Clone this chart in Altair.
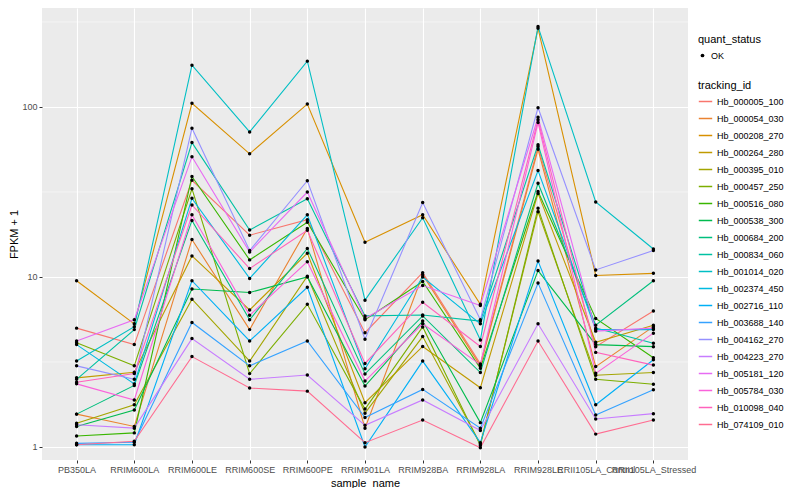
import altair as alt
import pandas as pd

samples = ["PB350LA", "RRIM600LA", "RRIM600LE", "RRIM600SE", "RRIM600PE",
           "RRIM901LA", "RRIM928BA", "RRIM928LA", "RRIM928LE",
           "RRII105LA_Control", "RRII105LA_Stressed"]

tracking_ids = ["Hb_000005_100", "Hb_000054_030", "Hb_000208_270", "Hb_000264_280",
                "Hb_000395_010", "Hb_000457_250", "Hb_000516_080", "Hb_000538_300",
                "Hb_000684_200", "Hb_000834_060", "Hb_001014_020", "Hb_002374_450",
                "Hb_002716_110", "Hb_003688_140", "Hb_004162_270", "Hb_004223_270",
                "Hb_005181_120", "Hb_005784_030", "Hb_010098_040", "Hb_074109_010"]

palette = ["#F8766D", "#EA8331", "#D89000", "#C09B00", "#A3A500", "#7CAE00",
           "#39B600", "#00BB4E", "#00BF7D", "#00C1A3", "#00BFC4", "#00BAE0",
           "#00B0F6", "#35A2FF", "#9590FF", "#C77CFF", "#E76BF3", "#FA62DB",
           "#FF62BC", "#FF6C91"]

# FPKM + 1 per sample, one list per tracking_id
hb_000005_100 = [5.0, 4.0, 37.0, 17.6, 21.7, 4.7, 10.6, 3.08, 58.5, 3.89, 6.3]
hb_000054_030 = [1.56, 1.32, 16.6, 4.9, 19.3, 1.29, 10.3, 3.0, 56.4, 2.97, 5.1]
hb_000208_270 = [9.5, 5.3, 105.0, 53.0, 104.0, 16.0, 23.2, 6.9, 290.0, 10.2, 10.5]
hb_000264_280 = [2.55, 2.75, 13.3, 6.4, 13.8, 1.82, 3.9, 2.23, 31.0, 4.13, 5.2]
hb_000395_010 = [1.38, 1.77, 7.4, 3.2, 10.1, 1.58, 4.46, 1.04, 24.2, 2.64, 2.74]
hb_000457_250 = [4.1, 3.0, 33.0, 2.7, 6.9, 1.67, 5.08, 1.02, 25.4, 2.5, 2.34]
hb_000516_080 = [1.16, 1.21, 39.0, 12.6, 21.0, 5.6, 9.4, 2.9, 31.8, 5.7, 3.35]
hb_000538_300 = [1.32, 1.65, 8.5, 8.1, 10.0, 2.28, 5.5, 1.39, 10.9, 4.0, 3.89]
hb_000684_200 = [1.56, 2.3, 21.5, 5.6, 14.7, 2.69, 5.9, 2.74, 35.6, 5.2, 9.5]
hb_000834_060 = [2.5, 4.9, 61.7, 18.9, 28.8, 5.9, 5.97, 5.5, 60.0, 5.0, 4.07]
hb_001014_020 = [3.2, 5.1, 176.0, 71.3, 186.0, 7.3, 22.3, 4.26, 297.0, 27.6, 14.6]
hb_002374_450 = [4.0, 2.35, 29.0, 9.8, 23.2, 2.88, 10.0, 5.3, 42.3, 4.9, 4.9]
hb_002716_110 = [1.03, 1.03, 9.5, 4.2, 8.7, 1.0, 3.2, 1.06, 12.4, 1.77, 3.26]
hb_003688_140 = [1.05, 1.065, 5.4, 3.0, 4.2, 1.49, 2.18, 1.29, 9.2, 1.54, 2.17]
hb_004162_270 = [3.0, 2.5, 75.0, 14.3, 36.8, 4.3, 27.4, 5.6, 99.0, 11.0, 14.3]
hb_004223_270 = [1.35, 1.29, 4.34, 2.5, 2.65, 1.34, 1.89, 1.25, 5.3, 1.46, 1.57]
hb_005181_120 = [4.2, 5.6, 51.0, 14.0, 31.6, 5.7, 8.9, 6.8, 87.0, 4.8, 5.0]
hb_005784_030 = [2.35, 1.89, 23.2, 5.95, 12.3, 2.44, 5.3, 3.05, 81.0, 2.71, 4.67]
hb_010098_040 = [2.4, 2.7, 26.5, 11.2, 18.8, 3.1, 7.1, 3.9, 84.0, 3.6, 3.03]
hb_074109_010 = [1.03, 1.08, 3.4, 2.22, 2.13, 1.06, 1.44, 0.99, 4.2, 1.19, 1.44]

series_values = [hb_000005_100, hb_000054_030, hb_000208_270, hb_000264_280,
                 hb_000395_010, hb_000457_250, hb_000516_080, hb_000538_300,
                 hb_000684_200, hb_000834_060, hb_001014_020, hb_002374_450,
                 hb_002716_110, hb_003688_140, hb_004162_270, hb_004223_270,
                 hb_005181_120, hb_005784_030, hb_010098_040, hb_074109_010]

minor_grid = [10 ** 0.5, 10 ** 1.5, 10 ** 2.5]

rows = []
for tid, vals in zip(tracking_ids, series_values):
    for s, v in zip(samples, vals):
        rows.append({"tracking_id": tid, "sample_name": s, "fpkm": v, "quant_status": "OK"})
df = pd.DataFrame(rows)
grid_df = pd.DataFrame({"fpkm": minor_grid})

FONT = "Liberation Sans"

xenc = alt.X("sample_name:N", sort=samples, title="sample_name",
             scale=alt.Scale(type="point", padding=0.6),
             axis=alt.Axis(labelAngle=0, labelOverlap=False, labelFontSize=9,
                           labelColor="#4D4D4D", tickColor="#333333", tickSize=3,
                           titleFontSize=11, titleFontWeight="normal",
                           titleColor="black", domain=False, grid=True,
                           gridColor="white", gridWidth=1.1, labelPadding=2,
                           titlePadding=3))
yscale = alt.Scale(type="log", domain=[0.838, 382], nice=False)
yaxis = alt.Axis(values=[1, 10, 100], format="d", labelFontSize=9,
                 labelColor="#4D4D4D", tickColor="#333333", tickSize=3,
                 titleFontSize=11, titleFontWeight="normal",
                 titleColor="black", domain=False, grid=True,
                 gridColor="white", gridWidth=1.1, labelPadding=2,
                 titlePadding=2)
yenc = alt.Y("fpkm:Q", title="FPKM + 1", scale=yscale, axis=yaxis)

minor = alt.Chart(grid_df).mark_rule(color="white", strokeWidth=0.5).encode(
    y=alt.Y("fpkm:Q", title="FPKM + 1", scale=yscale, axis=yaxis)
)

lines = alt.Chart(df).mark_line(strokeWidth=1.1, clip=True).encode(
    x=xenc, y=yenc,
    color=alt.Color("tracking_id:N", scale=alt.Scale(domain=tracking_ids, range=palette),
                    legend=alt.Legend(title="tracking_id", orient="none",
                                      legendX=656, legendY=72,
                                      symbolType="stroke", symbolStrokeWidth=1.5,
                                      symbolSize=180, labelFontSize=9,
                                      titleFontSize=11, titleFontWeight="normal",
                                      rowPadding=4, labelColor="black",
                                      titlePadding=3)),
    detail="tracking_id:N",
)

points = alt.Chart(df).mark_point(filled=True, color="black", size=12, opacity=1).encode(
    x=xenc, y=yenc,
    shape=alt.Shape("quant_status:N", scale=alt.Scale(domain=["OK"], range=["circle"]),
                    legend=alt.Legend(title="quant_status", orient="none",
                                      legendX=656, legendY=26,
                                      symbolFillColor="black", symbolStrokeColor="black",
                                      symbolSize=14, labelFontSize=9,
                                      titleFontSize=11, titleFontWeight="normal",
                                      titlePadding=6)),
)

chart = alt.layer(minor, lines, points).properties(
    width=646, height=452, padding={"left": 0, "top": 0, "right": 0, "bottom": 0}
).configure(font=FONT).configure_view(fill="#EBEBEB", stroke=None)

chart.save("out.html", embed_options={"renderer": "svg", "actions": False})
